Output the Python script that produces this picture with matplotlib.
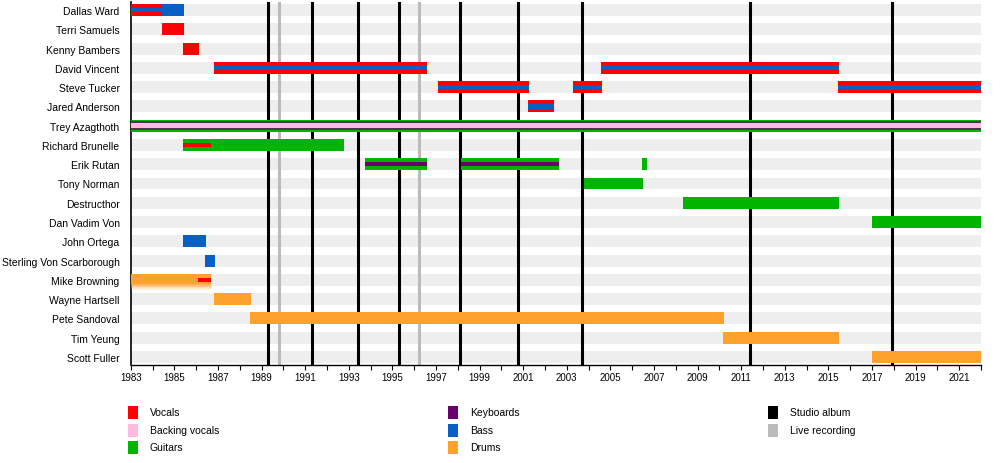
import numpy as np
import matplotlib
matplotlib.use('Agg')
import matplotlib.pyplot as plt
from matplotlib.patches import Rectangle

plt.rcParams['font.family'] = ['Liberation Sans', 'DejaVu Sans']

members = ['Dallas Ward', 'Terri Samuels', 'Kenny Bambers', 'David Vincent', 'Steve Tucker',
           'Jared Anderson', 'Trey Azagthoth', 'Richard Brunelle', 'Erik Rutan', 'Tony Norman',
           'Destructhor', 'Dan Vadim Von', 'John Ortega', 'Sterling Von Scarborough',
           'Mike Browning', 'Wayne Hartsell', 'Pete Sandoval', 'Tim Yeung', 'Scott Fuller']

start_year = 1983
end_year = 2022

# full height bars (member, from, to)
vocals = [('Dallas Ward', 1983, 1984.42), ('Terri Samuels', 1984.42, 1985.43),
          ('Kenny Bambers', 1985.4, 1986.13), ('David Vincent', 1986.82, 1996.58),
          ('David Vincent', 2004.56, 2015.47), ('Steve Tucker', 1997.1, 2001.27),
          ('Steve Tucker', 2003.29, 2004.62), ('Steve Tucker', 2015.44, 2022),
          ('Jared Anderson', 2001.22, 2002.41)]
guitars = [('Trey Azagthoth', 1983, 2022), ('Richard Brunelle', 1985.4, 1992.78),
           ('Erik Rutan', 1993.76, 1996.58), ('Erik Rutan', 1998.17, 2002.63),
           ('Erik Rutan', 2006.45, 2006.67), ('Tony Norman', 2003.78, 2006.48),
           ('Destructhor', 2008.33, 2015.49), ('Dan Vadim Von', 2017.0, 2022)]
bass = [('Dallas Ward', 1984.42, 1985.43), ('John Ortega', 1985.4, 1986.45),
        ('Sterling Von Scarborough', 1986.41, 1986.87)]
drums = [('Mike Browning', 1983, 1986.68), ('Wayne Hartsell', 1986.82, 1988.52),
         ('Pete Sandoval', 1988.47, 2010.22), ('Tim Yeung', 2010.17, 2015.49),
         ('Scott Fuller', 2017.0, 2022)]

# secondary roles drawn as a stripe in the middle of the bar
bass_stripe = [('Dallas Ward', 1983, 1984.42), ('David Vincent', 1986.82, 1996.58),
               ('David Vincent', 2004.56, 2015.47), ('Steve Tucker', 1997.1, 2001.27),
               ('Steve Tucker', 2003.29, 2004.62), ('Steve Tucker', 2015.44, 2022),
               ('Jared Anderson', 2001.22, 2002.41)]
keyboards_stripe = [('Trey Azagthoth', 1983, 2022), ('Erik Rutan', 1993.76, 1996.58),
                    ('Erik Rutan', 1998.17, 2002.63)]
backing_stripe = [('Trey Azagthoth', 1983, 2022)]
vocals_stripe = [('Richard Brunelle', 1985.4, 1986.67), ('Mike Browning', 1986.1, 1986.68)]

studio_albums = [1989.31, 1991.33, 1993.44, 1995.32, 1998.12, 2000.77, 2003.7, 2011.42, 2017.9]
live_recordings = [1989.82, 1996.24]

colors = {'Vocals': '#ff0000', 'Backing vocals': '#ffbbdd', 'Guitars': '#00b400',
          'Keyboards': '#6a006a', 'Bass': '#0a5fc4', 'Drums': '#ffa12d',
          'Studio album': '#000000', 'Live recording': '#bbbbbb'}

row = {name: i for i, name in enumerate(members)}
h = 0.62

fig = plt.figure(figsize=(10, 4.64), dpi=100)
ax = fig.add_axes([0.1307, 1 - 365.7 / 464, 0.981 - 0.1307, (365.7 - 3.3) / 464])

# background stripes
for i in range(len(members)):
    ax.barh(i, end_year - start_year, left=start_year, height=h, color='#eeeeee', zorder=1)

for x in studio_albums:
    ax.axvline(x, color=colors['Studio album'], lw=2.2, zorder=2)
for x in live_recordings:
    ax.axvline(x, color=colors['Live recording'], lw=2.2, zorder=2)


def draw(periods, color, height, z):
    for name, a, b in periods:
        ax.barh(row[name], b - a, left=a, height=height, color=color, zorder=z, lw=0)


draw(vocals, colors['Vocals'], h, 3)
draw(guitars, colors['Guitars'], h, 3)
draw(bass, colors['Bass'], h, 3)
draw([d for d in drums if d[0] != 'Mike Browning'], colors['Drums'], h, 3)

# Mike Browning drums with a faded lower edge
for name, a, b in drums:
    if name == 'Mike Browning':
        y0 = row[name]
        ax.barh(y0 - 0.08, b - a, left=a, height=h - 0.16, color=colors['Drums'], zorder=3, lw=0)
        steps = 10
        for k in range(steps):
            top = y0 + h / 2 - 0.16 + k * 0.04
            ax.barh(top + 0.02, b - a, left=a, height=0.04, color=colors['Drums'],
                    alpha=1 - (k + 0.5) / steps, zorder=3, lw=0)

draw(bass_stripe, colors['Bass'], h * 0.4, 4)
draw([k for k in keyboards_stripe if k[0] != 'Trey Azagthoth'], colors['Keyboards'], h * 0.36, 4)
draw([k for k in keyboards_stripe if k[0] == 'Trey Azagthoth'], '#553350', h * 0.8, 4)
draw(backing_stripe, colors['Backing vocals'], h * 0.42, 5)
draw(vocals_stripe, colors['Vocals'], h * 0.36, 5)

ax.set_xlim(start_year, end_year)
ax.set_ylim(len(members) - 0.6, -0.4)
ax.set_yticks(range(len(members)))
ax.set_yticklabels(members, fontsize=7.5)
ax.tick_params(axis='y', length=0, pad=8)
ax.set_xticks(range(start_year, end_year, 2))
ax.set_xticks(range(start_year, end_year + 1), minor=True)
ax.tick_params(axis='x', which='both', length=3.5, width=0.8, labelsize=7, pad=2)
for s in ['top', 'right']:
    ax.spines[s].set_visible(False)
ax.spines['left'].set_linewidth(1.2)
ax.spines['bottom'].set_linewidth(1.0)

# legend below the chart
legend_cols = [['Vocals', 'Backing vocals', 'Guitars'], ['Keyboards', 'Bass', 'Drums'],
               ['Studio album', 'Live recording']]
col_x = [128, 448, 768]
row_y = [413, 431, 448]
for cx, items in zip(col_x, legend_cols):
    for ry, label in zip(row_y, items):
        fig.add_artist(Rectangle((cx / 1000, 1 - (ry + 6.5) / 464), 10 / 1000, 13 / 464,
                                 transform=fig.transFigure, color=colors[label], lw=0))
        fig.text((cx + 22) / 1000, 1 - ry / 464, label, fontsize=7.5, va='center', ha='left')

fig.savefig('out.png', dpi=100)
